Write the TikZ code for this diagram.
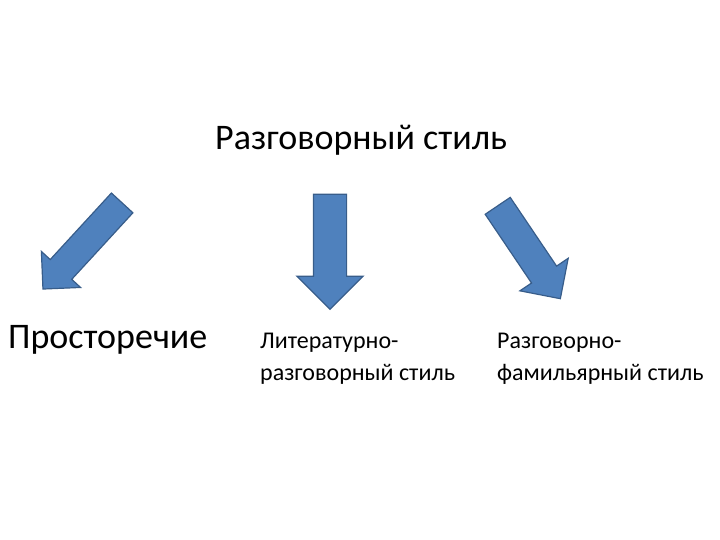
\documentclass[tikz,border=0pt]{standalone}
\usepackage{fontspec}
\setmainfont{Carlito}
\usetikzlibrary{shapes.arrows}
\definecolor{arrfill}{HTML}{4F81BD}
\definecolor{arrdraw}{HTML}{385D8A}

\begin{document}
\begin{tikzpicture}[x=1pt,y=-1pt,
		blockarrow/.style={single arrow,draw=arrdraw,fill=arrfill,line width=1.2pt,inner xsep=0pt,single arrow head indent=0pt},
		bigtext/.style={anchor=base west,inner sep=0pt,font=\fontsize{36}{42}\selectfont},
		smalltext/.style={anchor=base west,inner sep=0pt,align=left,font=\fontsize{24}{32}\selectfont}]
		\useasboundingbox (0,0) rectangle (720,540);
		% заголовок
		\node[bigtext] (title) at (215,150) {Разговорный стиль};
		
		% стрелки
		\node[blockarrow,inner ysep=14pt,minimum height=117pt,single arrow head extend=12pt,rotate=227.4] (arrL) at (87.5,240.6) {};
		\node[blockarrow,inner ysep=16pt,minimum height=115pt,single arrow head extend=16.5pt,rotate=270] (arrM) at (330,243.5) {};
		\node[blockarrow,inner ysep=14.5pt,minimum height=112pt,single arrow head extend=14pt,rotate=304] (arrR) at (524.8,246) {};
		
		% подстили
		\node[bigtext] (prost) at (8,348) {Просторечие};
		\node[smalltext] (litraz) at (260,380) {Литературно-\\разговорный стиль};
		\node[smalltext] (razfam) at (497,380) {Разговорно-\\фамильярный стиль};
		
\end{tikzpicture}
\end{document}
